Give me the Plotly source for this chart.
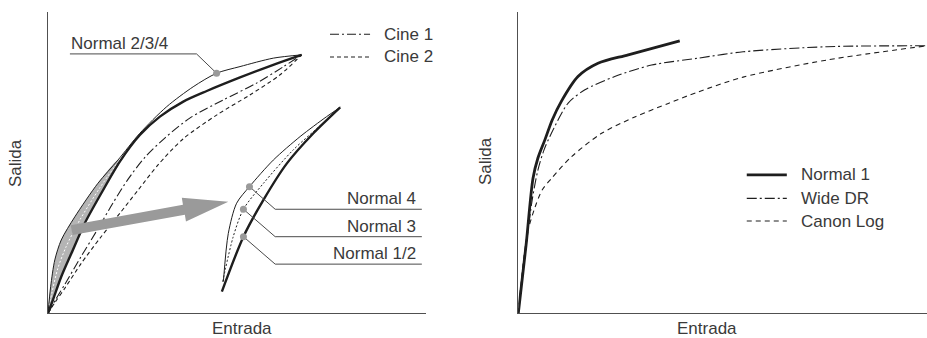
import plotly.graph_objects as go

# ---- left panel: Normal / Cine gamma curves (0-100 units) ----
N12_X = [0, 1.3, 3.5, 6.2, 9.7, 14.1, 19.0, 24.3, 29.6, 35.8, 42.0, 50.8, 59.6, 67.1]
N12_Y = [0, 4.4, 12.1, 19.9, 29.8, 39.8, 50.3, 59.1, 65.2, 70.2, 73.7, 78.2, 82.4, 85.7]

N234_X = [0, 0.7, 1.8, 3.5, 7.1, 13.2, 18.5, 24.3, 31.4, 38.4, 44.6, 50.8, 59.6, 67.1]
N234_Y = [0, 8.8, 17.7, 24.3, 32.0, 43.1, 50.8, 59.7, 68.5, 75.1, 79.6, 81.8, 84.6, 85.7]

MID_X = [0, 1.0, 2.6, 4.8, 8.4, 13.6, 18.7]
MID_Y = [0, 6.6, 14.9, 22.1, 30.9, 41.4, 50.5]

CINE1_X = [0, 2.1, 4.5, 8.7, 13.2, 17.2, 21.2, 25.7, 30.9, 37.6, 46.3, 55.3, 62.2, 67.1]
CINE1_Y = [0, 4.7, 9.7, 18.7, 28.0, 36.6, 44.5, 51.8, 58.1, 64.8, 70.7, 76.4, 81.7, 85.7]

CINE2_X = [0, 1.9, 4.5, 8.7, 14.0, 19.1, 23.8, 29.1, 35.7, 44.7, 53.4, 61.3, 67.1]
CINE2_Y = [0, 3.7, 8.4, 16.4, 25.3, 33.3, 40.8, 49.2, 57.8, 65.8, 72.4, 79.0, 85.7]

# enlarged detail (inset)
IN_THICK_X = [46.0, 51.7, 57.0, 63.2, 70.2, 77.3]
IN_THICK_Y = [7.2, 25.4, 37.6, 49.7, 59.7, 68.3]
IN_THIN_X = [46.4, 47.7, 49.9, 53.3, 59.6, 66.7, 73.7, 77.3]
IN_THIN_Y = [10.5, 26.5, 36.5, 42.0, 50.8, 58.6, 65.2, 68.3]
IN_DOT_X = [46.2, 49.0, 51.7, 57.0, 64.9, 73.7, 77.3]
IN_DOT_Y = [10.5, 25.4, 34.5, 43.1, 54.2, 64.1, 68.3]

# ---- right panel: Normal 1 / Wide DR / Canon Log ----
R_N1_X = [0, 1.9, 3.6, 4.8, 6.5, 8.3, 10.5, 14.6, 19.5, 26.9, 39.5]
R_N1_Y = [0, 22.6, 44.8, 51.5, 57.5, 64.1, 70.2, 78.5, 82.9, 85.7, 90.3]
R_WDR_X = [0, 0.9, 2.1, 3.4, 4.8, 6.3, 8.1, 12.2, 16.3, 23.6, 32.6, 44.0, 55.0, 75.6, 100]
R_WDR_Y = [0, 11.1, 24.3, 37.6, 47.5, 54.2, 59.7, 69.7, 74.1, 78.5, 82.3, 84.6, 86.7, 88.4, 88.7]
R_CLOG_X = [0, 0.7, 1.4, 2.4, 4.1, 5.8, 8.1, 13.0, 20.3, 28.5, 36.7, 44.0, 55.0, 75.6, 100]
R_CLOG_Y = [0, 10.3, 19.0, 27.6, 35.2, 40.8, 44.7, 51.9, 59.6, 65.1, 69.6, 73.4, 78.3, 84.0, 88.7]

INK = '#1e1e1e'
TXT = '#3a3a3a'
GREY = '#9a9a9a'
FONT = dict(family='Liberation Sans, Arial, sans-serif', size=17, color=TXT)

W, H = 927, 338


def line(x, y, width=1, dash='solid', color=INK, xa='x', ya='y', shape='spline', **kw):
    return go.Scatter(x=x, y=y, mode='lines', xaxis=xa, yaxis=ya,
                      line=dict(color=color, width=width, dash=dash, shape=shape, smoothing=0.8),
                      hoverinfo='skip', showlegend=False, **kw)


fig = go.Figure()

# grey band between Normal 2/3/4 and Normal 1/2 near the origin
k = len(MID_X)
fig.add_trace(go.Scatter(x=N234_X[:k] + N12_X[:k][::-1], y=N234_Y[:k] + N12_Y[:k][::-1],
                         fill='toself', fillcolor='#b4b4b4', mode='lines',
                         line=dict(width=0, shape='spline', smoothing=0.8),
                         hoverinfo='skip', showlegend=False))
fig.add_trace(line(MID_X, MID_Y, 1, '2px,2px', 'white'))
fig.add_trace(line(CINE2_X, CINE2_Y, 1.1, '4px,3px'))
fig.add_trace(line(CINE1_X, CINE1_Y, 1.1, '9px,3px,2px,3px'))
fig.add_trace(line(N234_X, N234_Y, 1))
fig.add_trace(line(N12_X, N12_Y, 2.4))

fig.add_trace(line(IN_DOT_X, IN_DOT_Y, 1, '2px,2px'))
fig.add_trace(line(IN_THIN_X, IN_THIN_Y, 1))
fig.add_trace(line(IN_THICK_X, IN_THICK_Y, 2.4))

fig.add_trace(line(R_CLOG_X, R_CLOG_Y, 1.1, '5px,4px', xa='x2', ya='y2'))
fig.add_trace(line(R_WDR_X, R_WDR_Y, 1.1, '10px,3px,2px,3px', xa='x2', ya='y2'))
fig.add_trace(line(R_N1_X, R_N1_Y, 2.8, xa='x2', ya='y2'))

# leader lines for the callouts
leaders = [
    ([5.8, 39.3, N234_X[10]], [86.0, 86.0, N234_Y[10]]),
    ([IN_THIN_X[3], 60.1, 98.9], [IN_THIN_Y[3], 34.5, 34.5]),
    ([IN_DOT_X[2], 60.1, 98.9], [IN_DOT_Y[2], 25.4, 25.4]),
    ([IN_THICK_X[1], 60.1, 98.9], [IN_THICK_Y[1], 16.3, 16.3]),
]
for lx, ly in leaders:
    fig.add_trace(line(lx, ly, 1, color='#4a4a4a', shape='linear'))

fig.add_trace(go.Scatter(
    x=[N234_X[10], IN_THIN_X[3], IN_DOT_X[2], IN_THICK_X[1]],
    y=[N234_Y[10], IN_THIN_Y[3], IN_DOT_Y[2], IN_THICK_Y[1]],
    mode='markers', marker=dict(color=GREY, size=7), hoverinfo='skip', showlegend=False))

shapes = [
    # big grey arrow pointing at the enlarged detail
    dict(type='path', xref='x', yref='y', layer='above',
         path='M 6.5 26.0 L 6.0 29.2 L 35.7 36.0 L 35.4 38.3 L 47.7 37.0 L 36.5 30.4 L 36.2 32.7 Z',
         fillcolor=GREY, line=dict(width=0)),
    # legend samples
    dict(type='line', xref='x', yref='y', x0=74.6, x1=85.2, y0=92.5, y1=92.5,
         line=dict(color=INK, width=1.1, dash='9px,3px,2px,3px')),
    dict(type='line', xref='x', yref='y', x0=74.6, x1=85.2, y0=85.0, y1=85.0,
         line=dict(color=INK, width=1.1, dash='4px,3px')),
    dict(type='line', xref='x2', yref='y2', x0=55.9, x1=65.7, y0=45.9, y1=45.9,
         line=dict(color=INK, width=2.8)),
    dict(type='line', xref='x2', yref='y2', x0=55.9, x1=65.7, y0=38.1, y1=38.1,
         line=dict(color=INK, width=1.1, dash='10px,3px,2px,3px')),
    dict(type='line', xref='x2', yref='y2', x0=55.9, x1=65.7, y0=30.6, y1=30.6,
         line=dict(color=INK, width=1.1, dash='5px,4px')),
]

ann = [
    dict(text='Normal 2/3/4', x=5.6, y=89.6, xref='x', yref='y', xanchor='left'),
    dict(text='Normal 4', x=98.0, y=38.1, xref='x', yref='y', xanchor='right'),
    dict(text='Normal 3', x=98.0, y=28.9, xref='x', yref='y', xanchor='right'),
    dict(text='Normal 1/2', x=98.0, y=19.7, xref='x', yref='y', xanchor='right'),
    dict(text='Cine 1', x=88.4, y=92.5, xref='x', yref='y', xanchor='left'),
    dict(text='Cine 2', x=88.4, y=85.0, xref='x', yref='y', xanchor='left'),
    dict(text='Normal 1', x=68.8, y=45.9, xref='x2', yref='y2', xanchor='left'),
    dict(text='Wide DR', x=68.8, y=38.1, xref='x2', yref='y2', xanchor='left'),
    dict(text='Canon Log', x=68.8, y=30.6, xref='x2', yref='y2', xanchor='left'),
    dict(text='Salida', x=15 / W, y=1 - 163 / H, xref='paper', yref='paper', textangle=-90),
    dict(text='Salida', x=485 / W, y=1 - 161 / H, xref='paper', yref='paper', textangle=-90),
    dict(text='Entrada', x=242 / W, y=1 - 328 / H, xref='paper', yref='paper'),
    dict(text='Entrada', x=707 / W, y=1 - 328 / H, xref='paper', yref='paper'),
]
for a in ann:
    a.update(showarrow=False, font=FONT, yanchor='middle')
    a.setdefault('xanchor', 'center')

AX = dict(range=[0, 100], showgrid=False, zeroline=False, showticklabels=False,
          ticks='', showline=True, linecolor='#505050', linewidth=1.4, fixedrange=True)
YDOM = [1 - 313.3 / H, 1 - 11.7 / H]

fig.update_layout(
    width=W, height=H,
    margin=dict(l=0, r=0, t=0, b=0),
    paper_bgcolor='white', plot_bgcolor='white',
    font=FONT,
    xaxis=dict(AX, domain=[48 / W, 426 / W], anchor='y'),
    yaxis=dict(AX, domain=YDOM, anchor='x'),
    xaxis2=dict(AX, domain=[518.3 / W, 1.0], anchor='y2'),
    yaxis2=dict(AX, domain=YDOM, anchor='x2'),
    shapes=shapes,
    annotations=ann,
    showlegend=False,
)

# the page's default body margin would shift the figure by 8px
fig.write_html("out.html", config={'displayModeBar': False},
               post_script="document.body.style.margin='0px';")
